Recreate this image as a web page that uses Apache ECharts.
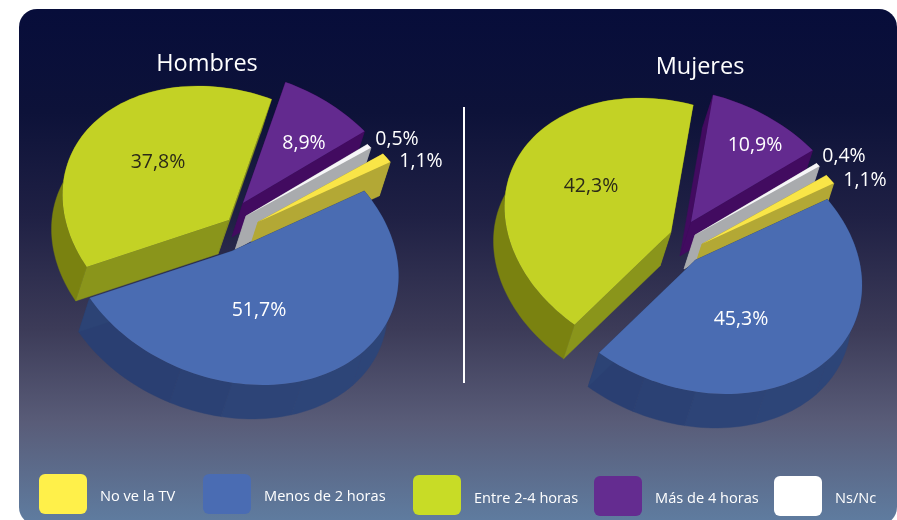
<!DOCTYPE html>
<html><head><meta charset="utf-8">
<style>html,body{margin:0;padding:0;background:#fff}#c{width:897px;height:520px}</style>
<script src="https://cdn.jsdelivr.net/npm/echarts@6/dist/echarts.min.js"></script>
</head><body><div id="c"></div>
<script>
// ---- data ----
const categories = ['No ve la TV', 'Menos de 2 horas', 'Entre 2-4 horas', 'Más de 4 horas', 'Ns/Nc'];
const hombres = [1.1, 51.7, 37.8, 8.9, 0.5];
const mujeres = [1.1, 45.3, 42.3, 10.9, 0.4];
const titles = ['Hombres', 'Mujeres'];

// ---- styles and layout ----
const FONT = '"Open Sans", "Noto Sans", sans-serif';
const sweepOrder = [1, 2, 3, 4, 0];
const drawOrder = [2, 3, 4, 0, 1];
const swatchColors = ['#fff04a', '#4a6cb3', '#c8dc26', '#642c90', '#ffffff'];
const topColors = ['#f9e547', '#4a6cb2', '#c3d225', '#632a8f', '#f6f6f8'];
const outerColors = ['#b3a835', '#2c4375', '#7a8210', '#420b60', '#a9abae'];
const radialColors = ['#b3a835', '#2c4375', '#8a951b', '#420b60', '#a9abae'];
const labelColors = ['#fff', '#fff', '#2b2a18', '#fff', '#fff'];
const L = [[166.5, 0], [25, 131.6]];
const depth = [-11, 34];
const facetAngles = [38, 65, 90, 108];
const facetShades = ['#2d4578', '#2d4578', '#2d4477', '#2b4174', '#2a3f72'];
const pies = [
  { values: hombres, start: -37.4,
    apex: [[258, 222], [232, 251], [229, 220], [243, 203], [246, 216]],
    label: [[421, 161], [259, 310], [158, 162], [304, 143], [397, 139]] },
  { values: mujeres, start: -37.7,
    apex: [[702, 244], [695.5, 260], [671, 232], [691, 222], [695, 235]],
    label: [[865, 180], [741, 319], [591, 186], [755, 145], [844, 156]] }
];
const titlePos = [[207, 64], [700, 67]];
const legendSwatch = [[39, 474], [203, 474], [413, 475], [594, 476], [774, 476]];
const legendText = [[100, 497], [264, 497], [474, 499], [655, 499], [835, 499]];

function rim(p, deg) {
  const t = deg * Math.PI / 180, c = Math.cos(t), s = Math.sin(t);
  return [p[0] + L[0][0] * c + L[0][1] * s, p[1] + L[1][0] * c + L[1][1] * s];
}
function arc(p, a0, a1) {
  const n = Math.max(2, Math.ceil(Math.abs(a1 - a0) / 2)), out = [];
  for (let i = 0; i <= n; i++) out.push(rim(p, a0 + (a1 - a0) * i / n));
  return out;
}
const down = q => [q[0] + depth[0], q[1] + depth[1]];
const poly = (points, fill) => ({ type: 'polygon', shape: { points }, style: { fill, stroke: fill, lineWidth: 0.4 } });

function sliceRange(pie, cat) {
  const total = pie.values.reduce((a, b) => a + b, 0);
  let a = pie.start;
  for (const k of sweepOrder) {
    const sweep = pie.values[k] / total * 360;
    if (k === cat) return [a, a + sweep];
    a += sweep;
  }
}
function makeRender(pie) {
  return function (params, api) {
    const cat = api.value(1), val = api.value(0);
    const [a0, a1] = sliceRange(pie, cat);
    const p = pie.apex[cat], kids = [];
    // outer wall (blue one is faceted)
    const stops = [a0];
    if (cat === 1) facetAngles.forEach(f => { if (f > a0 && f < a1) stops.push(f); });
    stops.push(a1);
    for (let i = 0; i < stops.length - 1; i++) {
      const top = arc(p, stops[i], stops[i + 1]);
      kids.push(poly(top.concat(top.slice().reverse().map(down)),
        cat === 1 ? facetShades[i] : outerColors[cat]));
    }
    // radial walls
    [a0, a1].forEach(a => {
      const e = rim(p, a);
      kids.push(poly([p, e, down(e), down(p)], radialColors[cat]));
    });
    // top face
    kids.push({ type: 'polygon', shape: { points: [p].concat(arc(p, a0, a1)) },
      style: { fill: topColors[cat] } });
    // value label
    const lp = pie.label[cat];
    kids.push({ type: 'text', z2: 100, style: {
      text: val.toFixed(1).replace('.', ',') + '%', x: lp[0], y: lp[1],
      fill: labelColors[cat], font: '19.5px ' + FONT, align: 'center', verticalAlign: 'middle' } });
    return { type: 'group', children: kids };
  };
}

const bg = [{
  type: 'rect', z: 0, silent: true,
  shape: { x: 19, y: 9, width: 878, height: 516, r: 18 },
  style: { fill: { type: 'linear', x: 0, y: 0, x2: 0, y2: 1, colorStops: [
    { offset: 0, color: '#070d3a' }, { offset: 0.2, color: '#0d1239' },
    { offset: 0.4, color: '#1f2044' }, { offset: 0.62, color: '#3c3b58' },
    { offset: 0.8, color: '#595c78' }, { offset: 1, color: '#5f7da1' }] } }
}, {
  type: 'line', z: 1, silent: true,
  shape: { x1: 464, y1: 107, x2: 464, y2: 383 },
  style: { stroke: '#fff', lineWidth: 2 }
}];
categories.forEach((name, i) => {
  bg.push({ type: 'rect', z: 1, silent: true,
    shape: { x: legendSwatch[i][0], y: legendSwatch[i][1], width: 48, height: 40, r: 6 },
    style: { fill: swatchColors[i] } });
  bg.push({ type: 'text', z: 1, silent: true,
    style: { text: name, x: legendText[i][0], y: legendText[i][1], fill: '#fff',
      font: '14.6px ' + FONT, align: 'left', verticalAlign: 'middle' } });
});

const chart = echarts.init(document.getElementById('c'), null, { renderer: 'canvas' });
chart.setOption({
  animation: false,
  backgroundColor: '#ffffff',
  title: titles.map((t, i) => ({
    text: t, left: titlePos[i][0], top: titlePos[i][1] - 16, textAlign: 'center', padding: 0,
    textStyle: { color: '#fff', fontSize: 23.5, fontWeight: 'normal', fontFamily: FONT, lineHeight: 32 }
  })),
  graphic: bg,
  series: pies.map((pie, i) => ({
    type: 'custom', name: titles[i], coordinateSystem: 'none', z: 3, silent: true,
    renderItem: makeRender(pie),
    data: drawOrder.map(k => [pie.values[k], k])
  }))
});
</script>
</body></html>
